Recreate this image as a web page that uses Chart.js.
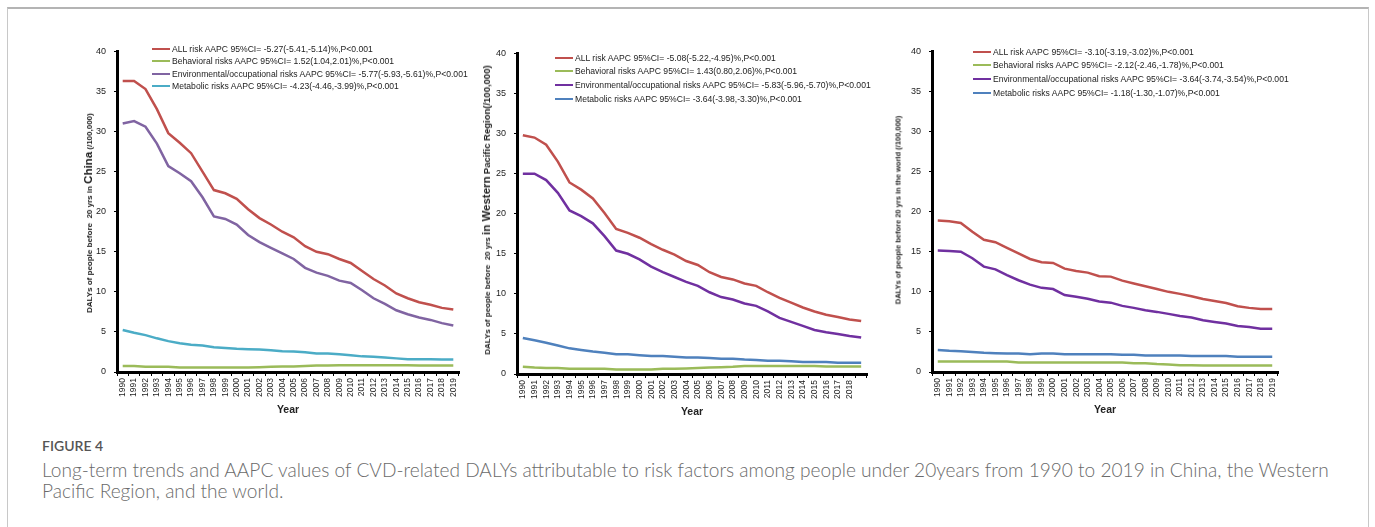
<!DOCTYPE html>
<html>
<head>
<meta charset="utf-8">
<script src="https://cdn.jsdelivr.net/npm/chart.js@4.4.1/dist/chart.umd.min.js"></script>
<style>
  body { margin:0; width:1375px; height:527px; background:#fff; position:relative; overflow:hidden; font-family:'Liberation Sans', Arial, sans-serif; }
  .frame { position:absolute; left:7px; top:7px; width:1360px; height:600px; border:1px solid #c8c8c8; border-top:2px solid #b4b4b4; }
  .panel { position:absolute; }
  .ytitle { position:absolute; transform:translate(-50%,-50%) rotate(-90deg); white-space:nowrap; font-weight:bold; font-size:8px; color:#222; }
  .ytitle .big { font-size:11.5px; }
  .ytitle .mid { font-size:9.5px; }
  .legend { position:absolute; font-size:8.6px; color:#222; }
  .legend div { white-space:nowrap; display:flex; align-items:center; }
  .legend .ln { display:inline-block; width:18px; height:2px; margin-right:2px; }
  .cap-head { position:absolute; left:42px; top:438px; font:600 14px Lato, sans-serif; color:#555; line-height:1.2; }
  .cap { position:absolute; left:42px; top:458.5px; font:300 19.1px Lato, sans-serif; color:#6a6a6a; line-height:21.7px; white-space:nowrap; }
</style>
</head>
<body>
<div class="frame"></div>

<div class="panel" style="left:87px;top:38px;width:382px;height:384px;"><canvas id="chinaChart"></canvas></div>
<div class="panel" style="left:487px;top:40px;width:390px;height:384px;"><canvas id="wprChart"></canvas></div>
<div class="panel" style="left:902px;top:38px;width:386px;height:384px;"><canvas id="worldChart"></canvas></div>

<div class="ytitle" style="left:88px;top:213px;">DALYs of people before&nbsp; 20 yrs in <span class="big">China</span> (/100,000)</div>
<div class="ytitle" style="left:486px;top:210px;">DALYs of people before&nbsp; 20 yrs <span class="big">in Western</span> <span class="mid">Pacific Region(/100,000)</span></div>
<div class="ytitle" style="left:898px;top:210px;font-size:7.5px;">DALYs of people before 20 yrs in the world (/100,000)</div>

<div class="legend" id="chinaLegend" style="left:152px;top:43px;"></div>
<div class="legend" id="wprLegend" style="left:555px;top:51px;"></div>
<div class="legend" id="worldLegend" style="left:973px;top:45px;"></div>

<div class="cap-head">FIGURE 4</div>
<div class="cap">Long-term trends and AAPC values of CVD-related DALYs attributable to risk factors among people under 20years from 1990 to 2019 in China, the Western<br>Pacific Region, and the world.</div>

<script>
// ── DATA ──────────────────────────────────────────────────────────────────────
const years = ['1990','1991','1992','1993','1994','1995','1996','1997','1998','1999',
               '2000','2001','2002','2003','2004','2005','2006','2007','2008','2009',
               '2010','2011','2012','2013','2014','2015','2016','2017','2018','2019'];
const yTicks = [0, 5, 10, 15, 20, 25, 30, 35, 40];

// China
const chinaAll   = [36.3,36.3,35.3,32.8,29.8,28.6,27.3,25.0,22.7,22.3,21.6,20.3,19.2,18.4,17.5,16.8,15.7,15.0,14.7,14.1,13.6,12.6,11.6,10.8,9.8,9.2,8.7,8.4,8.0,7.8];
const chinaBeh   = [0.75,0.75,0.65,0.65,0.65,0.55,0.55,0.55,0.55,0.55,0.55,0.55,0.6,0.65,0.7,0.7,0.75,0.8,0.8,0.85,0.85,0.85,0.85,0.85,0.85,0.85,0.8,0.8,0.8,0.8];
const chinaEnv   = [31.0,31.3,30.6,28.5,25.7,24.8,23.8,21.8,19.4,19.1,18.4,17.1,16.2,15.5,14.8,14.1,13.0,12.4,12.0,11.4,11.1,10.2,9.2,8.5,7.7,7.2,6.8,6.5,6.1,5.8];
const chinaMet   = [5.25,4.9,4.6,4.2,3.85,3.6,3.4,3.3,3.1,3.0,2.9,2.85,2.8,2.7,2.6,2.55,2.45,2.3,2.3,2.2,2.1,1.95,1.9,1.8,1.7,1.6,1.6,1.6,1.55,1.55];
const chinaLabels = [
  'ALL risk AAPC 95%CI= -5.27(-5.41,-5.14)%,P<0.001',
  'Behavioral risks AAPC 95%CI= 1.52(1.04,2.01)%,P<0.001',
  'Environmental/occupational risks AAPC 95%CI= -5.77(-5.93,-5.61)%,P<0.001',
  'Metabolic risks AAPC 95%CI= -4.23(-4.46,-3.99)%,P<0.001'];

// Western Pacific Region
const wprAll     = [29.8,29.5,28.6,26.5,23.9,23.0,21.9,20.1,18.1,17.6,17.0,16.2,15.5,14.9,14.1,13.6,12.7,12.1,11.8,11.3,11.0,10.2,9.5,8.9,8.3,7.8,7.4,7.1,6.8,6.6];
const wprBeh     = [0.9,0.8,0.75,0.75,0.65,0.65,0.65,0.65,0.55,0.55,0.55,0.55,0.65,0.65,0.7,0.75,0.8,0.85,0.9,1.0,1.0,1.0,1.0,1.0,1.0,1.0,0.95,0.95,0.95,0.95];
const wprEnv     = [25.0,25.0,24.2,22.6,20.4,19.7,18.8,17.2,15.4,15.0,14.3,13.4,12.7,12.1,11.5,11.0,10.2,9.6,9.3,8.8,8.5,7.8,7.0,6.5,6.0,5.5,5.2,5.0,4.75,4.55];
const wprMet     = [4.5,4.2,3.9,3.55,3.2,3.0,2.8,2.65,2.45,2.45,2.35,2.25,2.25,2.15,2.05,2.05,2.0,1.9,1.9,1.8,1.75,1.65,1.65,1.6,1.5,1.5,1.5,1.4,1.4,1.4];
const wprLabels = [
  'ALL risk AAPC 95%CI= -5.08(-5.22,-4.95)%,P<0.001',
  'Behavioral risks AAPC 95%CI= 1.43(0.80,2.06)%,P<0.001',
  'Environmental/occupational risks AAPC 95%CI= -5.83(-5.96,-5.70)%,P<0.001',
  'Metabolic risks AAPC 95%CI= -3.64(-3.98,-3.30)%,P<0.001'];

// World
const worldAll   = [18.9,18.8,18.6,17.5,16.5,16.2,15.5,14.8,14.1,13.7,13.6,12.9,12.6,12.4,11.95,11.9,11.4,11.05,10.7,10.35,10.0,9.75,9.45,9.1,8.85,8.6,8.2,8.0,7.85,7.85];
const worldBeh   = [1.3,1.3,1.3,1.3,1.3,1.3,1.3,1.2,1.2,1.2,1.2,1.2,1.2,1.2,1.2,1.2,1.2,1.1,1.1,1.0,0.95,0.85,0.85,0.8,0.8,0.8,0.8,0.8,0.8,0.8];
const worldEnv   = [15.15,15.1,15.0,14.2,13.15,12.8,12.1,11.45,10.9,10.5,10.35,9.6,9.4,9.15,8.8,8.65,8.25,8.0,7.7,7.5,7.25,7.0,6.8,6.45,6.25,6.05,5.75,5.6,5.4,5.4];
const worldMet   = [2.75,2.65,2.6,2.5,2.4,2.35,2.3,2.3,2.2,2.3,2.3,2.2,2.2,2.2,2.2,2.2,2.15,2.15,2.05,2.05,2.05,2.05,2.0,2.0,2.0,2.0,1.9,1.9,1.9,1.9];
const worldLabels = [
  'ALL risk AAPC 95%CI= -3.10(-3.19,-3.02)%,P<0.001',
  'Behavioral risks AAPC 95%CI= -2.12(-2.46,-1.78)%,P<0.001',
  'Environmental/occupational risks AAPC 95%CI= -3.64(-3.74,-3.54)%,P<0.001',
  'Metabolic risks AAPC 95%CI= -1.18(-1.30,-1.07)%,P<0.001'];

// ── COLOURS ───────────────────────────────────────────────────────────────────
const RED = '#c0504d', GREEN = '#9bbb59';
const chinaColors = [RED, GREEN, '#8064a2', '#4bacc6'];
const otherColors = [RED, GREEN, '#7030a0', '#4f81bd'];

// ── BUILD ONE PANEL ───────────────────────────────────────────────────────────
function makePanel(canvasId, legendId, series, labels, colors, rowH, hideLastYear) {
  const datasets = series.map((d, i) => ({
    label: labels[i], data: d, borderColor: colors[i], backgroundColor: colors[i],
    borderWidth: 2.5, pointRadius: 0, tension: 0, fill: false
  }));
  const chart = new Chart(document.getElementById(canvasId), {
    type: 'line',
    data: { labels: years, datasets },
    options: {
      responsive: true, maintainAspectRatio: false, animation: false,
      layout: { padding: { top: 10, right: 10, left: 0, bottom: 0 } },
      plugins: { legend: { display: false }, tooltip: { enabled: false } },
      scales: {
        x: {
          offset: true,
          grid: { offset: true, drawOnChartArea: false, drawTicks: true, tickLength: 4, color: '#000', lineWidth: 1 },
          border: { color: '#000', width: 3 },
          ticks: {
            autoSkip: false, minRotation: 90, maxRotation: 90, padding: 2,
            color: '#222', font: { family: 'Liberation Sans', size: 8.5 },
            // the WPR panel has no label under its last point
            callback: (v, i) => (hideLastYear && i === years.length - 1) ? '' : years[i]
          },
          title: { display: true, text: 'Year', color: '#222', padding: { top: 0, bottom: 6 },
                   font: { family: 'Liberation Sans', size: 10.5, weight: 'bold' } },
          afterFit: s => { s.height = 50; }
        },
        y: {
          min: yTicks[0], max: yTicks[yTicks.length - 1],
          afterBuildTicks: s => { s.ticks = yTicks.map(v => ({ value: v })); },
          grid: { drawOnChartArea: false, drawTicks: true, tickLength: 3, color: '#000', lineWidth: 1 },
          border: { color: '#000', width: 3 },
          ticks: { padding: 8, color: '#222', font: { family: 'Liberation Sans', size: 9 } },
          afterFit: s => { s.width = 30; }
        }
      }
    }
  });

  document.getElementById(legendId).innerHTML = chart.data.datasets.map(ds => `
    <div style="height:${rowH}px;"><span class="ln" style="background:${ds.borderColor};"></span>${ds.label.replace(/</g,'&lt;')}</div>`).join('');
  return chart;
}

makePanel('chinaChart', 'chinaLegend', [chinaAll, chinaBeh, chinaEnv, chinaMet], chinaLabels, chinaColors, 12.3, false);
makePanel('wprChart',   'wprLegend',   [wprAll, wprBeh, wprEnv, wprMet],         wprLabels,   otherColors, 13.6, true);
makePanel('worldChart', 'worldLegend', [worldAll, worldBeh, worldEnv, worldMet], worldLabels, otherColors, 13.6, false);
</script>
</body>
</html>
